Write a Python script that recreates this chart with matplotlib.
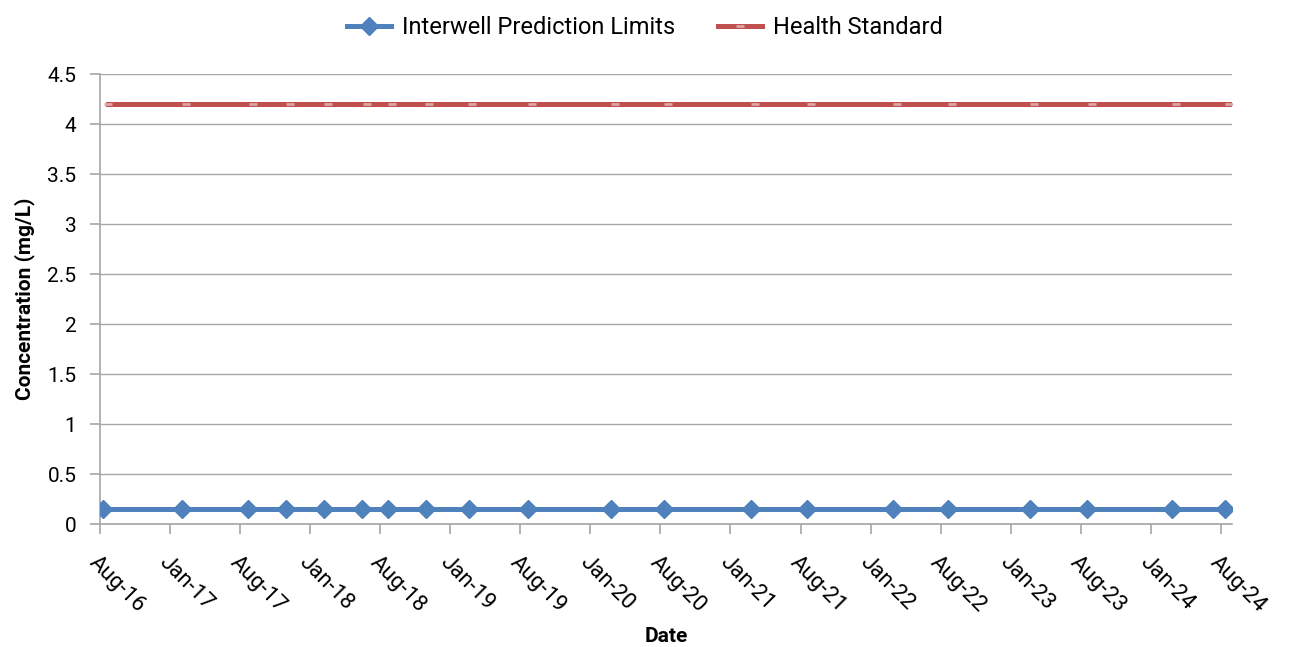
import matplotlib.pyplot as plt
import matplotlib.dates as mdates
import numpy as np
from datetime import datetime, timedelta

plt.rcParams['font.family'] = ['Roboto', 'DejaVu Sans']

# Sampling dates and values
limit_dates = ["2016-08-09", "2017-03-02", "2017-08-23", "2017-11-28", "2018-03-08",
               "2018-06-15", "2018-08-22", "2018-11-28", "2019-03-21", "2019-08-22",
               "2020-03-24", "2020-08-11", "2021-03-24", "2021-08-17", "2022-03-29",
               "2022-08-21", "2023-03-22", "2023-08-19", "2024-03-26", "2024-08-11"]
limit_values = [0.15] * 20

standard_dates = ["2016-08-21", "2017-03-13", "2017-09-03", "2017-12-09", "2018-03-19",
                  "2018-06-27", "2018-09-01", "2018-12-07", "2019-03-29", "2019-09-01",
                  "2020-04-04", "2020-08-22", "2021-04-04", "2021-08-28", "2022-04-09",
                  "2022-09-01", "2023-04-02", "2023-08-30", "2024-04-06", "2024-08-22"]
standard_values = [4.2] * 20

y_ticks = [0, 0.5, 1, 1.5, 2, 2.5, 3, 3.5, 4, 4.5]
y_labels = ["0", "0.5", "1", "1.5", "2", "2.5", "3", "3.5", "4", "4.5"]

ld = [datetime.strptime(d, "%Y-%m-%d") for d in limit_dates]
sd = [datetime.strptime(d, "%Y-%m-%d") for d in standard_dates]

fig = plt.figure(figsize=(12.9, 6.47), dpi=100)
ax = fig.add_axes([100 / 1290, 1 - 524 / 647, 1132 / 1290, 450 / 647])

grid_col = '#a6a6a6'
ax.plot(ld, limit_values, color='#4F81BD', lw=3.6, marker='D', ms=9,
        mfc='#4F81BD', mec='#4F81BD', label='Interwell Prediction Limits', zorder=3)
ax.plot(sd, standard_values, color='#C0504D', lw=3.6, marker='_', ms=6, mew=2,
        mec='#dba6a4', label='Health Standard', zorder=3)

# date axis: ticks every 182.625 days from Aug 2016
start = datetime(2016, 8, 1)
tick_dates = [start + timedelta(days=182.625 * k) for k in range(17)]
ax.set_xticks(tick_dates)
ax.xaxis.set_major_formatter(mdates.DateFormatter('%b-%y'))
ax.set_xlim(start, start + timedelta(days=2951))
ax.set_ylim(0, 4.5)
ax.set_yticks(y_ticks)
ax.set_yticklabels(y_labels)

ax.grid(axis='y', color=grid_col, lw=1)
ax.set_axisbelow(True)
for s in ['top', 'right']:
    ax.spines[s].set_visible(False)
for s in ['left', 'bottom']:
    ax.spines[s].set_color(grid_col)
    ax.spines[s].set_linewidth(1.2)
ax.tick_params(axis='both', colors=grid_col, length=7, width=1.2, labelcolor='black',
               labelsize=15)
ax.tick_params(axis='y', pad=10)
ax.tick_params(axis='x', pad=13, labelsize=16)
for lab in ax.get_xticklabels():
    lab.set_rotation(-45)
    lab.set_ha('left')
    lab.set_va('top')
    lab.set_rotation_mode('anchor')

ax.set_xlabel('Date', fontsize=15, fontweight='bold', labelpad=8)
ax.set_ylabel('Concentration (mg/L)', fontsize=15, fontweight='bold', labelpad=9)

fig.legend(loc='upper center', bbox_to_anchor=(0.5, 1.008), ncol=2, frameon=False,
           fontsize=17, handlelength=1.86, handletextpad=0.45, columnspacing=1.82)

fig.savefig('out.png', dpi=100)
